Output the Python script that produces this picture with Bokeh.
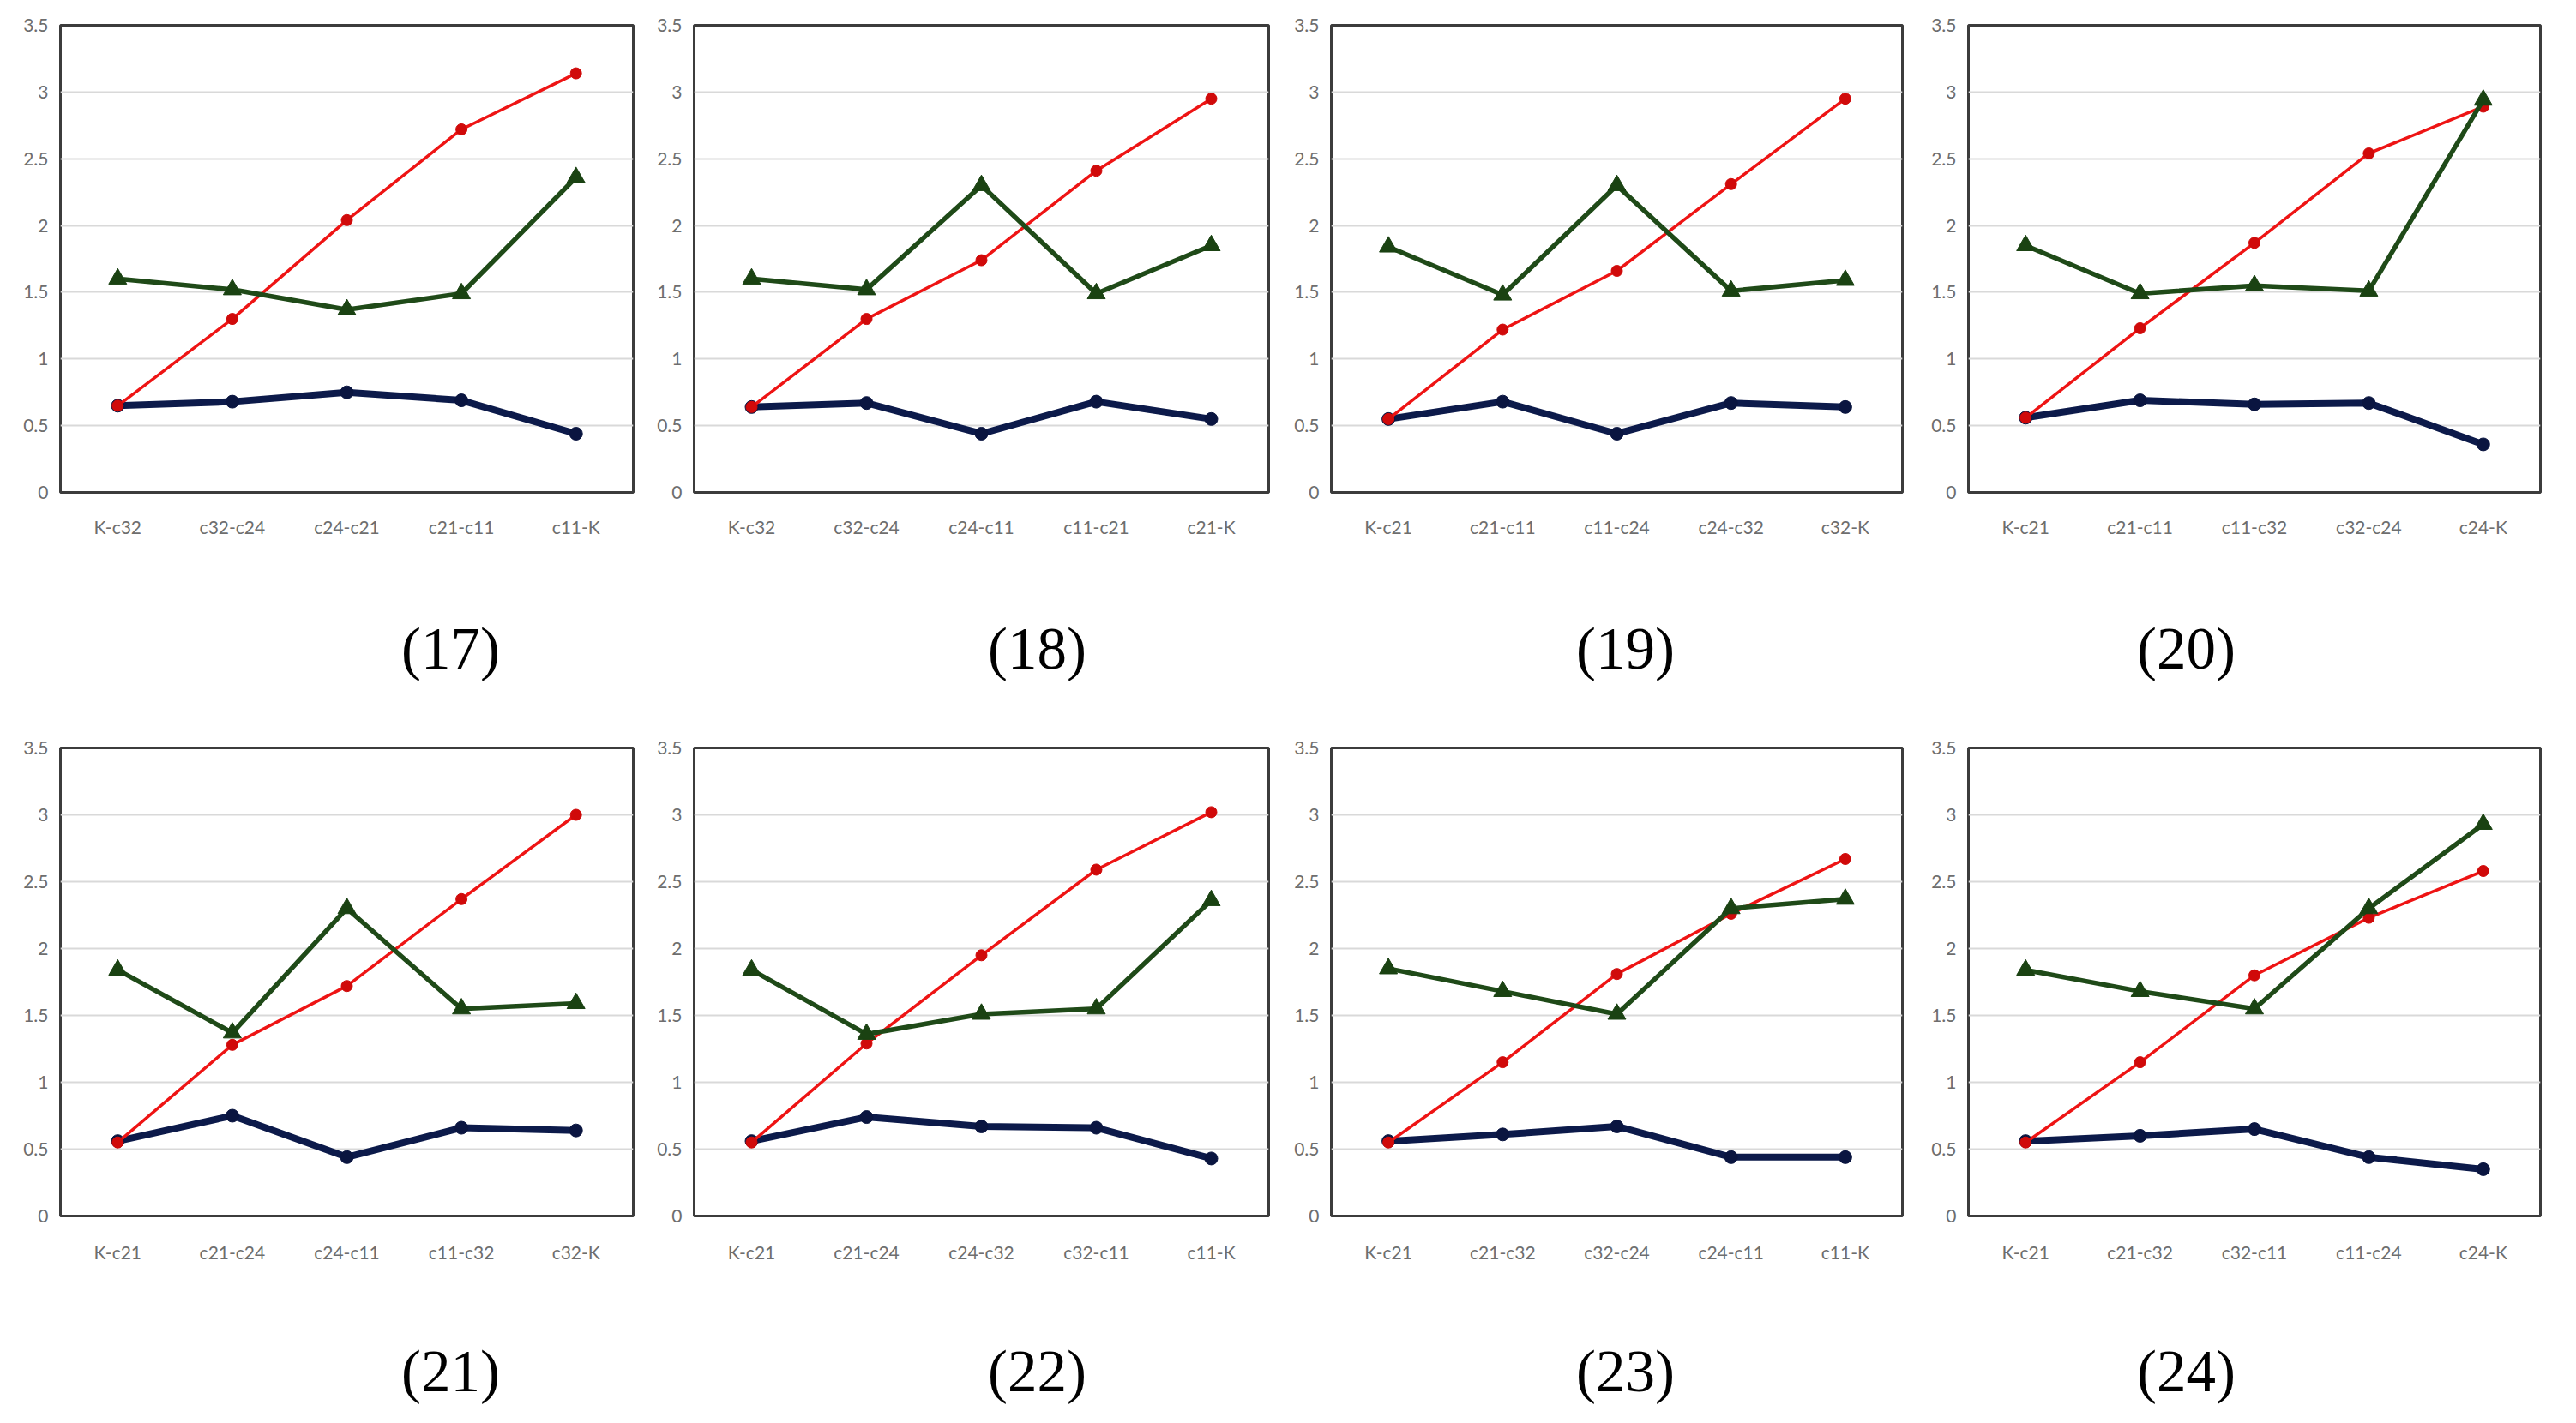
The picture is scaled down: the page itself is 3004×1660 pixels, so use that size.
from bokeh.plotting import figure
from bokeh.layouts import row, column
from bokeh.models import FactorRange, Range1d, FixedTicker, CustomJSTickFormatter
from bokeh.core.properties import value
from bokeh.embed import file_html
from bokeh.resources import INLINE

# ---------------- data ----------------
cats_17 = ["K-c32", "c32-c24", "c24-c21", "c21-c11", "c11-K"]
blue_17 = [0.65, 0.68, 0.75, 0.69, 0.44]
red_17 = [0.65, 1.30, 2.04, 2.72, 3.14]
green_17 = [1.60, 1.52, 1.37, 1.49, 2.36]

cats_18 = ["K-c32", "c32-c24", "c24-c11", "c11-c21", "c21-K"]
blue_18 = [0.64, 0.67, 0.44, 0.68, 0.55]
red_18 = [0.64, 1.30, 1.74, 2.41, 2.95]
green_18 = [1.60, 1.52, 2.30, 1.49, 1.85]

cats_19 = ["K-c21", "c21-c11", "c11-c24", "c24-c32", "c32-K"]
blue_19 = [0.55, 0.68, 0.44, 0.67, 0.64]
red_19 = [0.55, 1.22, 1.66, 2.31, 2.95]
green_19 = [1.84, 1.48, 2.30, 1.51, 1.59]

cats_20 = ["K-c21", "c21-c11", "c11-c32", "c32-c24", "c24-K"]
blue_20 = [0.56, 0.69, 0.66, 0.67, 0.36]
red_20 = [0.56, 1.23, 1.87, 2.54, 2.89]
green_20 = [1.85, 1.49, 1.55, 1.51, 2.94]

cats_21 = ["K-c21", "c21-c24", "c24-c11", "c11-c32", "c32-K"]
blue_21 = [0.56, 0.75, 0.44, 0.66, 0.64]
red_21 = [0.55, 1.28, 1.72, 2.37, 3.00]
green_21 = [1.84, 1.37, 2.30, 1.55, 1.59]

cats_22 = ["K-c21", "c21-c24", "c24-c32", "c32-c11", "c11-K"]
blue_22 = [0.56, 0.74, 0.67, 0.66, 0.43]
red_22 = [0.55, 1.29, 1.95, 2.59, 3.02]
green_22 = [1.84, 1.36, 1.51, 1.55, 2.36]

cats_23 = ["K-c21", "c21-c32", "c32-c24", "c24-c11", "c11-K"]
blue_23 = [0.56, 0.61, 0.67, 0.44, 0.44]
red_23 = [0.55, 1.15, 1.81, 2.26, 2.67]
green_23 = [1.85, 1.68, 1.51, 2.30, 2.37]

cats_24 = ["K-c21", "c21-c32", "c32-c11", "c11-c24", "c24-K"]
blue_24 = [0.56, 0.60, 0.65, 0.44, 0.35]
red_24 = [0.55, 1.15, 1.80, 2.23, 2.58]
green_24 = [1.84, 1.68, 1.55, 2.30, 2.93]

y_ticks = [0, 0.5, 1, 1.5, 2, 2.5, 3, 3.5]
captions_top = ["(17)", "(18)", "(19)", "(20)"]
captions_bottom = ["(21)", "(22)", "(23)", "(24)"]

# ---------------- styles ----------------
BLUE = "#0c1a4a"
BLUE_M = "#0a1540"
RED = "#ee1414"
RED_M = "#d00a0a"
GREEN = "#1f4a18"
GREEN_M = "#1a4212"
TICK_FONT = "Lato"
TICK_COLOR = "#6e6e6e"

# column slots: (figure width, min_border_left, min_border_right)
slots = [(762, 70, 24), (740, 47, 23), (740, 50, 24), (746, 53, 26)]


def make_panel(cats, blue, red, green, slot, height, mbt, mbb, xstand):
    w, mbl, mbr = slot
    p = figure(x_range=FactorRange(factors=cats), y_range=Range1d(0, 3.5),
               width=w, height=height, min_border_left=mbl, min_border_right=mbr,
               min_border_top=mbt, min_border_bottom=mbb,
               output_backend="svg", toolbar_location=None)
    p.outline_line_color = "#3c3c3c"
    p.outline_line_width = 3
    p.xgrid.grid_line_color = None
    p.ygrid.grid_line_color = "#d9d9d9"
    p.ygrid.grid_line_width = 2
    p.ygrid.ticker = FixedTicker(ticks=y_ticks)
    p.yaxis.ticker = FixedTicker(ticks=y_ticks)
    p.yaxis.formatter = CustomJSTickFormatter(code="return String(Math.round(tick*10)/10);")
    for ax in (p.xaxis, p.yaxis):
        ax.axis_line_color = None
        ax.major_tick_line_color = None
        ax.minor_tick_line_color = None
        ax.major_tick_out = 0
        ax.major_tick_in = 0
        ax.major_label_text_font = TICK_FONT
        ax.major_label_text_font_size = "21px"
        ax.major_label_text_color = TICK_COLOR
    p.yaxis.major_label_standoff = 14
    p.xaxis.major_label_standoff = xstand

    p.line(cats, blue, line_width=8, line_color=BLUE)
    p.scatter(cats, blue, marker="circle", size=15, fill_color=BLUE_M, line_color=BLUE_M)
    p.line(cats, red, line_width=3.5, line_color=RED)
    p.scatter(cats, red, marker="circle", size=13, fill_color=RED_M, line_color=RED_M)
    p.line(cats, green, line_width=5.5, line_color=GREEN)
    p.scatter(cats, green, marker="triangle", size=21, fill_color=GREEN_M, line_color=GREEN_M)
    return p


def make_caption(labels, y_top, y_bot, y_text):
    c = figure(width=2988, height=y_bot - y_top, x_range=Range1d(8, 2996),
               y_range=Range1d(y_bot, y_top), x_axis_type=None, y_axis_type=None,
               min_border=0, output_backend="svg", toolbar_location=None)
    c.outline_line_color = None
    c.text(x=[533, 1217, 1903, 2557], y=[y_text] * 4, text=labels,
           text_align="center", text_baseline="middle",
           text_font=value("Liberation Serif"), text_font_size="69px", text_color="black")
    return c


top_data = [(cats_17, blue_17, red_17, green_17), (cats_18, blue_18, red_18, green_18),
            (cats_19, blue_19, red_19, green_19), (cats_20, blue_20, red_20, green_20)]
bot_data = [(cats_21, blue_21, red_21, green_21), (cats_22, blue_22, red_22, green_22),
            (cats_23, blue_23, red_23, green_23), (cats_24, blue_24, red_24, green_24)]

row1 = row(*[make_panel(*d, slot=s, height=672, mbt=29, mbb=98, xstand=27)
             for d, s in zip(top_data, slots)])
cap1 = make_caption(captions_top, 680, 840, 764)
row2 = row(*[make_panel(*d, slot=s, height=686, mbt=40, mbb=100, xstand=29)
             for d, s in zip(bot_data, slots)])
cap2 = make_caption(captions_bottom, 1526, 1652, 1607)

layout = column(row1, cap1, row2, cap2)
open("out.html", "w").write(file_html(layout, INLINE))
